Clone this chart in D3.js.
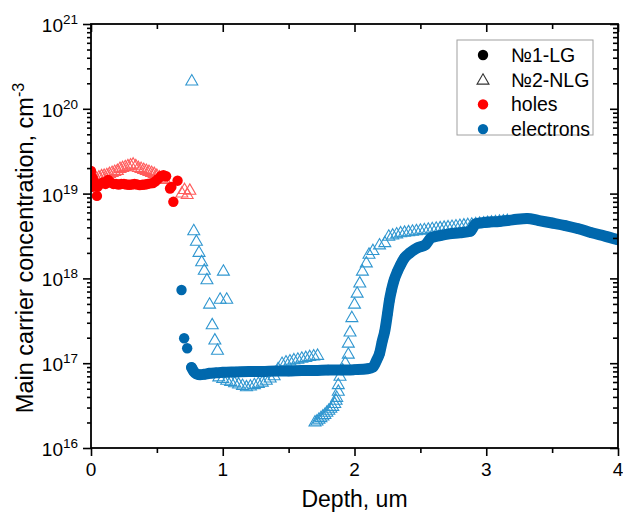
<!DOCTYPE html>
<html><head><meta charset="utf-8">
<script src="https://cdn.jsdelivr.net/npm/d3@7"></script>
<style>
body{margin:0;background:#fff}
svg{display:block}
text{font-family:"Liberation Sans", Arial, Helvetica, sans-serif;fill:#000}
</style>
</head><body>
<svg id="chart" width="623" height="513"></svg>
<script>
// ---------------- DATA ----------------
const xTicks = [0, 1, 2, 3, 4];
const xMinorTicks = [0.5, 1.5, 2.5, 3.5];
const yDecadeExponents = [16, 17, 18, 19, 20, 21];

// Sample №1-LG, holes (red filled circles)
const holes1X = [0,0.003,0.006,0.01,0.015,0.02,0.03,0.045,0.05,0.07,0.09,0.11,0.13,0.15,0.17,0.19,0.21,0.23,0.25,0.27,0.29,0.31,0.33,0.35,0.37,0.39,0.41,0.43,0.45,0.47,0.49,0.51,0.53,0.55,0.57,0.60,0.61,0.625,0.657];
const holes1Y = [1.85e19,1.6e19,1.35e19,1.2e19,1.5e19,1.3e19,1.25e19,9.4e18,1.2e19,1.3e19,1.35e19,1.3e19,1.45e19,1.35e19,1.3e19,1.3e19,1.28e19,1.3e19,1.3e19,1.28e19,1.27e19,1.28e19,1.3e19,1.28e19,1.26e19,1.27e19,1.28e19,1.3e19,1.32e19,1.33e19,1.4e19,1.5e19,1.6e19,1.65e19,1.6e19,1.15e19,1.2e19,8.0e18,1.42e19];

// Sample №2-NLG, holes (red open triangles)
const holes2X = [0.0,0.02,0.04,0.06,0.08,0.10,0.12,0.14,0.16,0.18,0.20,0.22,0.24,0.26,0.28,0.30,0.32,0.34,0.36,0.38,0.40,0.42,0.44,0.46,0.48,0.50,0.52,0.54,0.56,0.69,0.71,0.73,0.75];
const holes2Y = [1.5e19,1.45e19,1.5e19,1.55e19,1.6e19,1.62e19,1.65e19,1.7e19,1.75e19,1.8e19,1.85e19,1.95e19,2.0e19,2.05e19,2.1e19,2.15e19,2.2e19,2.1e19,2.0e19,1.95e19,1.9e19,1.85e19,1.8e19,1.75e19,1.7e19,1.62e19,1.55e19,1.5e19,1.45e19,1.0e19,1.1e19,9.6e18,1.08e19];

// Sample №1-LG, electrons (blue filled circles)
const elec1X = [0.687,0.707,0.73,0.763,0.78,0.80,0.83,0.86,0.9,0.95,1.0,1.1,1.2,1.3,1.4,1.5,1.6,1.7,1.8,1.9,2.0,2.1,2.14,2.17,2.19,2.21,2.23,2.25,2.265,2.28,2.30,2.325,2.35,2.38,2.42,2.48,2.54,2.58,2.65,2.72,2.80,2.88,2.92,3.0,3.1,3.2,3.31,3.4,3.5,3.6,3.7,3.8,3.9,4.0];
const elec1Y = [7.3e17,1.97e17,1.5e17,8.9e16,8.0e16,7.5e16,7.3e16,7.4e16,7.6e16,7.7e16,7.8e16,7.9e16,8.0e16,8.0e16,8.1e16,8.1e16,8.2e16,8.2e16,8.3e16,8.3e16,8.4e16,8.6e16,9.0e16,1.1e17,1.3e17,1.8e17,2.4e17,3.8e17,5.5e17,7.2e17,9.5e17,1.2e18,1.45e18,1.75e18,2.0e18,2.3e18,2.5e18,3.0e18,3.2e18,3.35e18,3.45e18,3.6e18,4.4e18,4.6e18,4.7e18,4.9e18,5.1e18,4.8e18,4.5e18,4.2e18,3.85e18,3.45e18,3.15e18,2.85e18];

// Sample №2-NLG, electrons (blue open triangles)
const elec2X = [0.765,0.78,0.80,0.82,0.84,0.86,0.88,1.005,0.90,0.98,1.03,0.92,0.94,0.96,
  0.97,1.0,1.03,1.06,1.09,1.12,1.15,1.18,1.21,1.24,1.27,1.30,1.33,1.36,1.39,1.42,1.45,1.48,1.51,1.54,1.57,1.60,1.63,1.66,1.69,1.72,
  1.70,1.715,1.73,1.745,1.76,1.775,1.79,1.805,1.82,1.835,1.85,1.86,1.865,1.877,1.877,1.89,1.91,1.93,1.953,1.953,1.966,1.98,2.0,2.02,2.04,2.06,2.09,2.11,2.14,2.19,2.23,
  2.26,2.29,2.32,2.35,2.38,2.41,2.44,2.47,2.50,2.53,2.56,2.59,2.62,2.65,2.68,2.71,2.74,2.77,2.80,2.83,2.86,2.89,2.92,2.95,2.98,3.01,3.04,3.07,3.10,3.13,3.16];
const elec2Y = [2.1e20,3.6e18,2.7e18,2.0e18,1.55e18,1.23e18,9.5e17,1.2e18,4.9e17,5.6e17,5.6e17,2.8e17,1.85e17,1.4e17,
  6.8e16,6.5e16,6.2e16,6.0e16,5.8e16,5.6e16,5.4e16,5.2e16,5.3e16,5.5e16,5.7e16,5.9e16,6.2e16,6.6e16,7.0e16,8.5e16,9.8e16,1.02e17,1.05e17,1.08e17,1.1e17,1.13e17,1.15e17,1.18e17,1.2e17,1.22e17,
  2.0e16,2.05e16,2.15e16,2.25e16,2.35e16,2.45e16,2.6e16,2.75e16,2.9e16,3.05e16,3.3e16,3.6e16,3.9e16,4.6e16,5.5e16,6.9e16,8.2e16,1.0e17,1.26e17,1.7e17,2.3e17,3.4e17,4.9e17,6.6e17,8.7e17,1.2e18,1.5e18,1.9e18,2.1e18,2.45e18,2.6e18,
  3.1e18,3.2e18,3.3e18,3.4e18,3.45e18,3.5e18,3.55e18,3.6e18,3.65e18,3.7e18,3.75e18,3.8e18,3.85e18,3.9e18,3.95e18,4.0e18,4.05e18,4.1e18,4.15e18,4.2e18,4.25e18,4.3e18,4.35e18,4.4e18,4.45e18,4.5e18,4.55e18,4.6e18,4.65e18,4.7e18,4.75e18];

const legendLabels = ["№1-LG", "№2-NLG", "holes", "electrons"];

// ---------------- CHART ----------------
const m = {left: 91, right: 618, top: 24, bottom: 448};
const svg = d3.select("#chart");
const x = d3.scaleLinear().domain([0, 4]).range([m.left, m.right]);
const y = d3.scaleLog().domain([1e16, 1e21]).range([m.bottom, m.top]);

const RED = "#ff0000", RED_T = "#ff5c5c", BLUE = "#0068ad", BLUE_T = "#2f96d0";

svg.append("defs").append("clipPath").attr("id", "clip")
  .append("rect").attr("x", m.left).attr("y", m.top)
  .attr("width", m.right - m.left).attr("height", m.bottom - m.top);

const plot = svg.append("g").attr("clip-path", "url(#clip)");
const tri = d3.symbol().type(d3.symbolTriangle).size(62);

const zip = (xs, ys) => xs.map((v, i) => [v, ys[i]]);

// triangles (hollow) first
plot.append("g").selectAll("path").data(zip(holes2X, holes2Y)).join("path")
  .attr("d", tri).attr("transform", d => `translate(${x(d[0])},${y(d[1])})`)
  .attr("fill", "none").attr("stroke", RED_T).attr("stroke-width", 1.1);
plot.append("g").selectAll("path").data(zip(elec2X, elec2Y)).join("path")
  .attr("d", tri).attr("transform", d => `translate(${x(d[0])},${y(d[1])})`)
  .attr("fill", "none").attr("stroke", BLUE_T).attr("stroke-width", 1.1);

// electrons band (dense overlapping markers)
const e1 = zip(elec1X, elec1Y);
plot.append("path").datum(e1.filter(d => d[0] >= 0.76))
  .attr("d", d3.line().x(d => x(d[0])).y(d => y(d[1])).curve(d3.curveMonotoneX))
  .attr("fill", "none").attr("stroke", BLUE).attr("stroke-width", 11)
  .attr("stroke-linejoin", "round").attr("stroke-linecap", "round");
plot.append("g").selectAll("circle").data(e1).join("circle")
  .attr("cx", d => x(d[0])).attr("cy", d => y(d[1])).attr("r", 5.2).attr("fill", BLUE);

plot.append("g").selectAll("circle").data(zip(holes1X, holes1Y)).join("circle")
  .attr("cx", d => x(d[0])).attr("cy", d => y(d[1])).attr("r", 5.2).attr("fill", RED);

// ---------------- AXES ----------------
const frame = svg.append("g");
function styleAxis(g) {
  g.select(".domain").remove();
  g.selectAll(".tick line").attr("stroke", "#000").attr("stroke-width", 1.6);
  g.selectAll(".tick text").remove();
}
const yMajor = yDecadeExponents.map(e => Math.pow(10, e));
const yMinor = [];
yDecadeExponents.slice(0, -1).forEach(e => { for (let k = 2; k <= 9; k++) yMinor.push(k * Math.pow(10, e)); });

frame.append("g").attr("transform", `translate(0,${m.bottom})`)
  .call(d3.axisBottom(x).tickValues(xTicks).tickSize(8).tickSizeOuter(0)).call(styleAxis);
frame.append("g").attr("transform", `translate(0,${m.bottom})`)
  .call(d3.axisBottom(x).tickValues(xMinorTicks).tickSize(5).tickSizeOuter(0)).call(styleAxis);
frame.append("g").attr("transform", `translate(0,${m.top})`)
  .call(d3.axisBottom(x).tickValues(xTicks).tickSize(8).tickSizeOuter(0)).call(styleAxis);
frame.append("g").attr("transform", `translate(0,${m.top})`)
  .call(d3.axisBottom(x).tickValues(xMinorTicks).tickSize(5).tickSizeOuter(0)).call(styleAxis);
frame.append("g").attr("transform", `translate(${m.left},0)`)
  .call(d3.axisLeft(y).tickValues(yMajor).tickSize(8).tickSizeOuter(0)).call(styleAxis);
frame.append("g").attr("transform", `translate(${m.left},0)`)
  .call(d3.axisLeft(y).tickValues(yMinor).tickSize(4).tickSizeOuter(0)).call(styleAxis);
frame.append("g").attr("transform", `translate(${m.right},0)`)
  .call(d3.axisLeft(y).tickValues(yMajor).tickSize(8).tickSizeOuter(0)).call(styleAxis);
frame.append("g").attr("transform", `translate(${m.right},0)`)
  .call(d3.axisLeft(y).tickValues(yMinor).tickSize(5).tickSizeOuter(0)).call(styleAxis);

frame.append("rect").attr("x", m.left).attr("y", m.top)
  .attr("width", m.right - m.left).attr("height", m.bottom - m.top)
  .attr("fill", "none").attr("stroke", "#000").attr("stroke-width", 1.8);

// x tick labels
svg.append("g").selectAll("text").data(xTicks).join("text")
  .attr("x", d => x(d)).attr("y", m.bottom + 28).attr("text-anchor", "middle")
  .attr("font-size", 19).text(d => d);

// y tick labels
const yl = svg.append("g").selectAll("text").data(yDecadeExponents).join("text")
  .attr("x", 78).attr("y", d => y(Math.pow(10, d)) + 8).attr("text-anchor", "end")
  .attr("font-size", 19);
yl.append("tspan").text("10");
yl.append("tspan").attr("dy", -8).attr("font-size", 13.5).text(d => d);

// axis titles
svg.append("text").attr("x", (m.left + m.right) / 2).attr("y", 507)
  .attr("text-anchor", "middle").attr("font-size", 23).text("Depth, um");
const yt = svg.append("text").attr("transform", `translate(33,${(m.top + m.bottom) / 2 + 12}) rotate(-90)`)
  .attr("text-anchor", "middle").attr("font-size", 23.5);
yt.append("tspan").text("Main carrier concentration, cm");
yt.append("tspan").attr("dy", -9).attr("font-size", 16).text("-3");

// ---------------- LEGEND ----------------
const lg = svg.append("g");
lg.append("rect").attr("x", 457).attr("y", 40).attr("width", 136).attr("height", 95)
  .attr("fill", "#fff").attr("stroke", "#a0a0a0").attr("stroke-width", 1);
const legendSym = [
  {type: "c", color: "#000"},
  {type: "t", color: "#333"},
  {type: "c", color: RED},
  {type: "c", color: BLUE}
];
legendLabels.forEach((lab, i) => {
  const cy = 55 + i * 24.7;
  const s = legendSym[i];
  if (s.type === "c") {
    lg.append("circle").attr("cx", 483).attr("cy", cy).attr("r", 5.2).attr("fill", s.color);
  } else {
    lg.append("path").attr("d", tri).attr("transform", `translate(483,${cy + 1})`)
      .attr("fill", "none").attr("stroke", s.color).attr("stroke-width", 1.1);
  }
  lg.append("text").attr("x", 511).attr("y", cy + 7).attr("font-size", 19.5).text(lab);
});
</script>
</body></html>
